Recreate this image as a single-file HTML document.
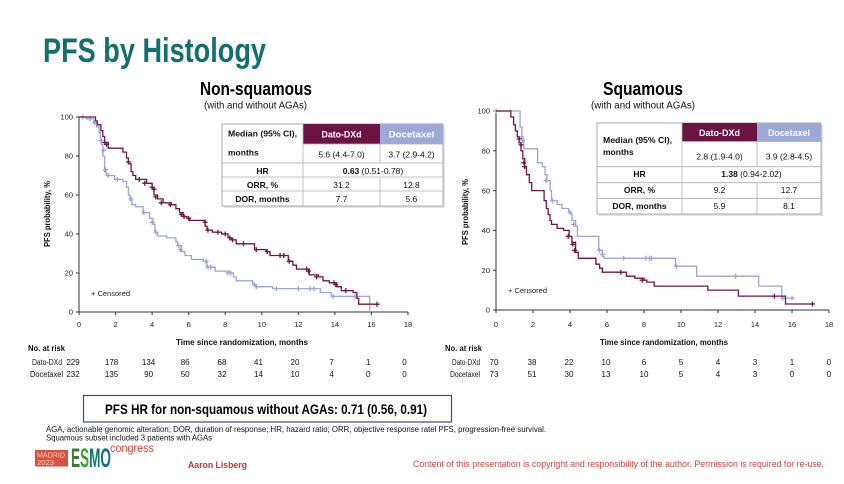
<!DOCTYPE html>
<html><head><meta charset="utf-8"><style>
html,body{margin:0;padding:0;background:#fff;}
svg{display:block;font-family:"Liberation Sans",Arial,sans-serif;}
</style></head><body>
<svg width="844" height="484" viewBox="0 0 844 484" xmlns="http://www.w3.org/2000/svg">
<rect width="844" height="484" fill="#fff"/>
<!-- Title -->
<text x="43" y="62" font-size="34" font-weight="bold" fill="#14706e" textLength="223" lengthAdjust="spacingAndGlyphs">PFS by Histology</text>
<text x="256" y="95" font-size="18" font-weight="bold" fill="#000" text-anchor="middle" textLength="112" lengthAdjust="spacingAndGlyphs">Non-squamous</text>
<text x="255.5" y="108.5" font-size="10" fill="#111" text-anchor="middle" textLength="103" lengthAdjust="spacingAndGlyphs">(with and without AGAs)</text>
<text x="643" y="95" font-size="18" font-weight="bold" fill="#000" text-anchor="middle" textLength="80" lengthAdjust="spacingAndGlyphs">Squamous</text>
<text x="643" y="108.5" font-size="10" fill="#111" text-anchor="middle" textLength="104" lengthAdjust="spacingAndGlyphs">(with and without AGAs)</text>

<!-- LEFT AXES -->
<g stroke="#333" stroke-width="1" fill="none">
<path d="M79,117V312H408"/>
<path d="M76,117h3M76,156h3M76,195h3M76,234h3M76,273h3M76,312h3"/>
<path d="M79,312v3M115.6,312v3M152.1,312v3M188.7,312v3M225.2,312v3M261.8,312v3M298.3,312v3M334.9,312v3M371.4,312v3M408,312v3"/>
</g>
<g font-size="7.5" fill="#222" text-anchor="end">
<text x="73" y="119.7">100</text><text x="73" y="158.7">80</text><text x="73" y="197.7">60</text><text x="73" y="236.7">40</text><text x="73" y="275.7">20</text><text x="73" y="314.7">0</text>
</g>
<g font-size="7.5" fill="#222" text-anchor="middle">
<text x="79" y="327">0</text><text x="115.6" y="327">2</text><text x="152.1" y="327">4</text><text x="188.7" y="327">6</text><text x="225.2" y="327">8</text><text x="261.8" y="327">10</text><text x="298.3" y="327">12</text><text x="334.9" y="327">14</text><text x="371.4" y="327">16</text><text x="408" y="327">18</text>
</g>
<text x="242" y="345" font-size="8" font-weight="bold" fill="#111" text-anchor="middle" textLength="132" lengthAdjust="spacingAndGlyphs">Time since randomization, months</text>
<text transform="translate(50,214) rotate(-90)" font-size="8" font-weight="bold" fill="#111" text-anchor="middle" textLength="66" lengthAdjust="spacingAndGlyphs">PFS probability, %</text>
<text x="91" y="296" font-size="7.5" fill="#222" textLength="39" lengthAdjust="spacingAndGlyphs">+ Censored</text>

<!-- LEFT CURVES -->
<g fill="none" stroke-width="1.3">
<path stroke="#9ba6d2" d="M79,117 H86.3 V118.9 H93.6 V122.9 H96.4 V126.8 H99.1 V132.6 H100.4 V138.5 H101.3 V144.3 H102.8 V156 H104.6 V171.6 H106.4 V175.5 H114.6 V179.4 H122.9 V181.4 H126.5 V187.2 H128.4 V195 H130.2 V200.9 H132 V204.8 H135.7 V206.7 H143 V212.6 H149.4 V218.4 H153 V224.3 H154.9 V232.1 H157.6 V236 H166.7 V237.9 H175.9 V241.8 H177.7 V245.7 H181.4 V251.6 H185 V255.5 H191.4 V259.4 H203.3 V261.3 H207 V267.2 H215.2 V271.1 H229.8 V273 H233.5 V276.9 H236.2 V280.8 H252.7 V284.7 H256.3 V286.7 H272.8 V288.6 H320.3 V292.5 H331.3 V296.4 H369.7 V312"/>
<path stroke="#9ba6d2" d="M82.7,117m-2.5,0h5m-2.5,-2.5v5 M90,118.9m-2.5,0h5m-2.5,-2.5v5 M94.5,122.9m-2.5,0h5m-2.5,-2.5v5 M100.9,140.4m-2.5,0h5m-2.5,-2.5v5 M103.7,150.2m-2.5,0h5m-2.5,-2.5v5 M105.5,169.7m-2.5,0h5m-2.5,-2.5v5 M108.2,175.5m-2.5,0h5m-2.5,-2.5v5 M117.4,179.4m-2.5,0h5m-2.5,-2.5v5 M131.1,198.9m-2.5,0h5m-2.5,-2.5v5 M143.9,212.6m-2.5,0h5m-2.5,-2.5v5 M152.1,222.3m-2.5,0h5m-2.5,-2.5v5 M155.8,232.1m-2.5,0h5m-2.5,-2.5v5 M178.6,245.7m-2.5,0h5m-2.5,-2.5v5 M180.5,249.6m-2.5,0h5m-2.5,-2.5v5 M206,261.3m-2.5,0h5m-2.5,-2.5v5 M207.9,267.2m-2.5,0h5m-2.5,-2.5v5 M210.6,267.2m-2.5,0h5m-2.5,-2.5v5 M228,273m-2.5,0h5m-2.5,-2.5v5 M230.7,273m-2.5,0h5m-2.5,-2.5v5 M254.5,284.7m-2.5,0h5m-2.5,-2.5v5 M256.3,286.7m-2.5,0h5m-2.5,-2.5v5 M276.4,288.6m-2.5,0h5m-2.5,-2.5v5 M298.4,288.6m-2.5,0h5m-2.5,-2.5v5 M310.2,288.6m-2.5,0h5m-2.5,-2.5v5 M313.9,288.6m-2.5,0h5m-2.5,-2.5v5 M333.1,296.4m-2.5,0h5m-2.5,-2.5v5 M355,296.4m-2.5,0h5m-2.5,-2.5v5"/>
<path stroke="#6e1848" d="M79,117 H95.5 V120.9 H97.3 V124.8 H100.9 V130.7 H102.8 V136.5 H104.6 V142.4 H108.2 V148.2 H122.9 V152.1 H126.5 V158 H128.4 V163.8 H131.1 V171.6 H132.9 V175.5 H135.7 V179.4 H146.6 V183.3 H152.1 V187.2 H154 V195 H157.6 V198.9 H163.1 V202.8 H171.3 V204.8 H175.9 V208.7 H179.5 V212.6 H183.2 V216.5 H186.9 V218.4 H189.6 V220.4 H205.1 V226.2 H207 V230.1 H212.4 V232.1 H221.6 V234 H228 V237.9 H231.6 V239.9 H236.2 V243.8 H254.5 V249.6 H266.4 V251.6 H270 V255.5 H288.3 V261.3 H292.9 V265.2 H296.5 V269.1 H309.3 V274.9 H318.5 V276.9 H323 V280.8 H329.4 V282.8 H336.7 V286.7 H341.3 V290.6 H353.2 V292.5 H356.9 V298.4 H358.7 V304.2 H377.9"/>
<path stroke="#6e1848" d="M104.6,142.4m-2.5,0h5m-2.5,-2.5v5 M106.4,144.3m-2.5,0h5m-2.5,-2.5v5 M128.4,161.9m-2.5,0h5m-2.5,-2.5v5 M139.3,179.4m-2.5,0h5m-2.5,-2.5v5 M144.8,183.3m-2.5,0h5m-2.5,-2.5v5 M152.1,187.2m-2.5,0h5m-2.5,-2.5v5 M154,189.2m-2.5,0h5m-2.5,-2.5v5 M155.8,197m-2.5,0h5m-2.5,-2.5v5 M161.3,202.8m-2.5,0h5m-2.5,-2.5v5 M170.4,204.8m-2.5,0h5m-2.5,-2.5v5 M181.4,214.5m-2.5,0h5m-2.5,-2.5v5 M184.1,216.5m-2.5,0h5m-2.5,-2.5v5 M188.7,218.4m-2.5,0h5m-2.5,-2.5v5 M205.1,222.3m-2.5,0h5m-2.5,-2.5v5 M207.9,230.1m-2.5,0h5m-2.5,-2.5v5 M217.9,232.1m-2.5,0h5m-2.5,-2.5v5 M225.2,234m-2.5,0h5m-2.5,-2.5v5 M229.8,237.9m-2.5,0h5m-2.5,-2.5v5 M232.6,239.9m-2.5,0h5m-2.5,-2.5v5 M243.5,243.8m-2.5,0h5m-2.5,-2.5v5 M256.3,249.6m-2.5,0h5m-2.5,-2.5v5 M267.3,251.6m-2.5,0h5m-2.5,-2.5v5 M280.1,255.5m-2.5,0h5m-2.5,-2.5v5 M283.7,255.5m-2.5,0h5m-2.5,-2.5v5 M289.2,261.3m-2.5,0h5m-2.5,-2.5v5 M306.6,269.1m-2.5,0h5m-2.5,-2.5v5 M308.4,271.1m-2.5,0h5m-2.5,-2.5v5 M316.6,276.9m-2.5,0h5m-2.5,-2.5v5 M334,282.8m-2.5,0h5m-2.5,-2.5v5 M335.8,284.7m-2.5,0h5m-2.5,-2.5v5 M345.9,290.6m-2.5,0h5m-2.5,-2.5v5 M377,304.2m-2.5,0h5m-2.5,-2.5v5"/>
</g>

<!-- LEFT TABLE -->
<rect x="224" y="126" width="221" height="82" fill="#e4e4e4"/>
<rect x="222" y="124" width="221" height="82" fill="#fff" stroke="#a8a8a8" stroke-width="1"/>
<rect x="303" y="124" width="77" height="20" fill="#6b1444"/>
<rect x="380" y="124" width="63" height="20" fill="#9ea8d6"/>
<g stroke="#b0b0b0" stroke-width="0.8" fill="none">
<path d="M303,144H443M222,163H443M222,177H443M222,191H443"/>
<path d="M303,124V206M380,144V163M380,177V206"/>
</g>
<g font-size="8.5" fill="#111">
<text x="228" y="136.5" font-weight="bold" textLength="69" lengthAdjust="spacingAndGlyphs">Median (95% CI),</text>
<text x="228" y="155.5" font-weight="bold">months</text>
<text x="341.5" y="137.5" font-size="9" font-weight="bold" fill="#fff" text-anchor="middle" textLength="40" lengthAdjust="spacingAndGlyphs">Dato-DXd</text>
<text x="411.5" y="137.5" font-size="9" font-weight="bold" fill="#fff" text-anchor="middle" textLength="46" lengthAdjust="spacingAndGlyphs">Docetaxel</text>
<text x="341.5" y="157.5" text-anchor="middle">5.6 (4.4-7.0)</text>
<text x="411.5" y="157.5" text-anchor="middle">3.7 (2.9-4.2)</text>
<text x="262.5" y="174" font-weight="bold" text-anchor="middle">HR</text>
<text x="373" y="174" text-anchor="middle"><tspan font-weight="bold">0.63</tspan> (0.51-0.78)</text>
<text x="262.5" y="188" font-weight="bold" text-anchor="middle">ORR, %</text>
<text x="341.5" y="188" text-anchor="middle">31.2</text>
<text x="411.5" y="188" text-anchor="middle">12.8</text>
<text x="262.5" y="202" font-weight="bold" text-anchor="middle">DOR, months</text>
<text x="341.5" y="202" text-anchor="middle">7.7</text>
<text x="411.5" y="202" text-anchor="middle">5.6</text>
</g>

<!-- LEFT RISK TABLE -->
<g font-size="8" fill="#111">
<text x="28" y="351" font-weight="bold" textLength="37" lengthAdjust="spacingAndGlyphs">No. at risk</text>
<text x="32" y="365" textLength="30" lengthAdjust="spacingAndGlyphs">Dato-DXd</text>
<text x="30" y="377" textLength="33" lengthAdjust="spacingAndGlyphs">Docetaxel</text>
</g>
<g font-size="8" fill="#111" text-anchor="middle">
<text x="73" y="365">229</text><text x="111.6" y="365">178</text><text x="148.6" y="365">134</text><text x="185.2" y="365">86</text><text x="222" y="365">68</text><text x="258.5" y="365">41</text><text x="295" y="365">20</text><text x="331.6" y="365">7</text><text x="368.2" y="365">1</text><text x="404.5" y="365">0</text>
<text x="73" y="377">232</text><text x="111.6" y="377">135</text><text x="148.6" y="377">90</text><text x="185.2" y="377">50</text><text x="222" y="377">32</text><text x="258.5" y="377">14</text><text x="295" y="377">10</text><text x="331.6" y="377">4</text><text x="368.2" y="377">0</text><text x="404.5" y="377">0</text>
</g>

<!-- RIGHT AXES -->
<g stroke="#333" stroke-width="1" fill="none">
<path d="M496,111V310H829"/>
<path d="M493,111h3M493,150.8h3M493,190.6h3M493,230.4h3M493,270.2h3M493,310h3"/>
<path d="M496,310v3M533,310v3M570,310v3M607,310v3M644,310v3M681,310v3M718,310v3M755,310v3M792,310v3M829,310v3"/>
</g>
<g font-size="7.5" fill="#222" text-anchor="end">
<text x="490" y="113.7">100</text><text x="490" y="153.5">80</text><text x="490" y="193.3">60</text><text x="490" y="233.1">40</text><text x="490" y="272.9">20</text><text x="490" y="312.7">0</text>
</g>
<g font-size="7.5" fill="#222" text-anchor="middle">
<text x="496" y="327">0</text><text x="533" y="327">2</text><text x="570" y="327">4</text><text x="607" y="327">6</text><text x="644" y="327">8</text><text x="681" y="327">10</text><text x="718" y="327">12</text><text x="755" y="327">14</text><text x="792" y="327">16</text><text x="829" y="327">18</text>
</g>
<text x="664" y="345" font-size="8" font-weight="bold" fill="#111" text-anchor="middle" textLength="128" lengthAdjust="spacingAndGlyphs">Time since randomization, months</text>
<text transform="translate(468,212) rotate(-90)" font-size="8" font-weight="bold" fill="#111" text-anchor="middle" textLength="66" lengthAdjust="spacingAndGlyphs">PFS probability, %</text>
<text x="508" y="293" font-size="7.5" fill="#222" textLength="39" lengthAdjust="spacingAndGlyphs">+ Censored</text>

<!-- RIGHT CURVES -->
<g fill="none" stroke-width="1.3">
<path stroke="#9ba6d2" d="M496,111 H520.1 V126.9 H521.9 V138.9 H523.8 V148.8 H537.6 V162.7 H542.3 V166.7 H545 V174.7 H546.9 V180.7 H550.2 V190.6 H551.5 V200.6 H557.1 V204.5 H562 V208.5 H568.7 V212.5 H571.9 V220.5 H575.6 V226.4 H577.4 V236.4 H598.7 V250.3 H602.4 V256.3 H604.2 V258.3 H675.5 V266.2 H696.7 V276.2 H758.7 V286.1 H781.8 V298.1 H793.9"/>
<path stroke="#9ba6d2" d="M496,111m-2.5,0h5m-2.5,-2.5v5 M521.9,136.9m-2.5,0h5m-2.5,-2.5v5 M522.8,140.9m-2.5,0h5m-2.5,-2.5v5 M546,180.7m-2.5,0h5m-2.5,-2.5v5 M552.4,200.6m-2.5,0h5m-2.5,-2.5v5 M570,212.5m-2.5,0h5m-2.5,-2.5v5 M573.7,224.4m-2.5,0h5m-2.5,-2.5v5 M599.6,250.3m-2.5,0h5m-2.5,-2.5v5 M602.4,254.3m-2.5,0h5m-2.5,-2.5v5 M623.7,258.3m-2.5,0h5m-2.5,-2.5v5 M645.9,258.3m-2.5,0h5m-2.5,-2.5v5 M649.6,258.3m-2.5,0h5m-2.5,-2.5v5 M651.5,258.3m-2.5,0h5m-2.5,-2.5v5 M676.4,266.2m-2.5,0h5m-2.5,-2.5v5 M735.6,276.2m-2.5,0h5m-2.5,-2.5v5 M782.8,298.1m-2.5,0h5m-2.5,-2.5v5 M792,298.1m-2.5,0h5m-2.5,-2.5v5"/>
<path stroke="#6e1848" d="M496,111 H510.8 V117 H513.6 V124.9 H515.4 V130.9 H517.3 V136.9 H519.1 V142.8 H521 V150.8 H522.8 V158.8 H524.7 V166.7 H526.5 V174.7 H529.3 V182.6 H531.7 V190.6 H544.1 V200.6 H546.3 V208.5 H548.2 V214.5 H550 V220.5 H551.5 V224.4 H557.1 V228.4 H563.7 V230.4 H569.1 V236.4 H571.9 V242.3 H575.6 V252.3 H578.3 V258.3 H595.9 V264.2 H599.6 V268.2 H602.4 V272.2 H626.4 V276.2 H634.8 V278.2 H644 V280.2 H646.8 V282.1 H654.2 V286.1 H707.8 V290.1 H738.4 V296.1 H785.5 V304 H814.2"/>
<path stroke="#6e1848" d="M519.1,138.9m-2.5,0h5m-2.5,-2.5v5 M521,144.8m-2.5,0h5m-2.5,-2.5v5 M523.8,162.7m-2.5,0h5m-2.5,-2.5v5 M524.7,166.7m-2.5,0h5m-2.5,-2.5v5 M568.2,236.4m-2.5,0h5m-2.5,-2.5v5 M572.8,244.3m-2.5,0h5m-2.5,-2.5v5 M574.6,250.3m-2.5,0h5m-2.5,-2.5v5 M620.9,272.2m-2.5,0h5m-2.5,-2.5v5 M642.2,280.2m-2.5,0h5m-2.5,-2.5v5 M774.4,296.1m-2.5,0h5m-2.5,-2.5v5 M812.4,304m-2.5,0h5m-2.5,-2.5v5"/>
</g>

<!-- RIGHT TABLE -->
<rect x="599" y="125" width="224" height="91" fill="#e4e4e4"/>
<rect x="597" y="123" width="224" height="91" fill="#fff" stroke="#a8a8a8" stroke-width="1"/>
<rect x="682" y="123" width="75" height="18.5" fill="#6b1444"/>
<rect x="757" y="123" width="64" height="18.5" fill="#9ea8d6"/>
<g stroke="#b0b0b0" stroke-width="0.8" fill="none">
<path d="M682,141.5H821M597,166.7H821M597,182.7H821M597,198.3H821"/>
<path d="M682,123V214M757,141.5V166.7M757,182.7V214"/>
</g>
<g font-size="8.5" fill="#111">
<text x="603" y="143" font-weight="bold" textLength="69" lengthAdjust="spacingAndGlyphs">Median (95% CI),</text>
<text x="603" y="155" font-weight="bold">months</text>
<text x="719.5" y="136" font-size="9" font-weight="bold" fill="#fff" text-anchor="middle" textLength="41" lengthAdjust="spacingAndGlyphs">Dato-DXd</text>
<text x="789" y="136" font-size="9" font-weight="bold" fill="#fff" text-anchor="middle" textLength="42" lengthAdjust="spacingAndGlyphs">Docetaxel</text>
<text x="719.5" y="159.5" text-anchor="middle">2.8 (1.9-4.0)</text>
<text x="789" y="159.5" text-anchor="middle">3.9 (2.8-4.5)</text>
<text x="639.5" y="177" font-weight="bold" text-anchor="middle">HR</text>
<text x="751.5" y="177" text-anchor="middle"><tspan font-weight="bold">1.38</tspan> (0.94-2.02)</text>
<text x="639.5" y="193" font-weight="bold" text-anchor="middle">ORR, %</text>
<text x="719.5" y="193" text-anchor="middle">9.2</text>
<text x="789" y="193" text-anchor="middle">12.7</text>
<text x="639.5" y="209" font-weight="bold" text-anchor="middle">DOR, months</text>
<text x="719.5" y="209" text-anchor="middle">5.9</text>
<text x="789" y="209" text-anchor="middle">8.1</text>
</g>

<!-- RIGHT RISK TABLE -->
<g font-size="8" fill="#111">
<text x="445" y="351" font-weight="bold" textLength="37" lengthAdjust="spacingAndGlyphs">No. at risk</text>
<text x="452" y="365" textLength="28" lengthAdjust="spacingAndGlyphs">Dato-DXd</text>
<text x="450" y="377" textLength="30" lengthAdjust="spacingAndGlyphs">Docetaxel</text>
</g>
<g font-size="8" fill="#111" text-anchor="middle">
<text x="494" y="365">70</text><text x="532" y="365">38</text><text x="569" y="365">22</text><text x="606" y="365">10</text><text x="644" y="365">6</text><text x="681" y="365">5</text><text x="718" y="365">4</text><text x="755" y="365">3</text><text x="792" y="365">1</text><text x="829" y="365">0</text>
<text x="494" y="377">73</text><text x="532" y="377">51</text><text x="569" y="377">30</text><text x="606" y="377">13</text><text x="644" y="377">10</text><text x="681" y="377">5</text><text x="718" y="377">4</text><text x="755" y="377">3</text><text x="792" y="377">0</text><text x="829" y="377">0</text>
</g>

<!-- HR BOX -->
<rect x="83.5" y="395.5" width="368" height="26.5" fill="#fff" stroke="#3f4b7c" stroke-width="1.2"/>
<text x="266" y="414" font-size="14" font-weight="bold" fill="#000" text-anchor="middle" textLength="322" lengthAdjust="spacingAndGlyphs">PFS HR for non-squamous without AGAs: 0.71 (0.56, 0.91)</text>

<!-- FOOTNOTES -->
<text x="46" y="432" font-size="8" fill="#111" textLength="500" lengthAdjust="spacingAndGlyphs">AGA, actionable genomic alteration; DOR, duration of response; HR, hazard ratio; ORR, objective response ratel PFS, progression-free survival.</text>
<text x="46" y="440.5" font-size="8" fill="#111" textLength="166" lengthAdjust="spacingAndGlyphs">Squamous subset included 3 patients with AGAs</text>

<!-- LOGO -->
<rect x="35" y="450" width="33" height="16.5" fill="#d9513f"/>
<text x="37" y="457.5" font-size="7" fill="#f6d0c8" textLength="28" lengthAdjust="spacingAndGlyphs">MADRID</text>
<text x="37" y="465" font-size="7" fill="#f6d0c8" textLength="17" lengthAdjust="spacingAndGlyphs">2023</text>
<text x="71" y="467" font-size="27" font-weight="bold" textLength="40" lengthAdjust="spacingAndGlyphs"><tspan fill="#3c7a35">E</tspan><tspan fill="#4d9a3b">S</tspan><tspan fill="#0f7a63">M</tspan><tspan fill="#12708a">O</tspan></text>
<text x="110" y="452" font-size="12" fill="#d0473b" textLength="44" lengthAdjust="spacingAndGlyphs">congress</text>
<text x="188" y="468" font-size="9" font-weight="bold" fill="#b93b34" textLength="59" lengthAdjust="spacingAndGlyphs">Aaron Lisberg</text>
<text x="413" y="467" font-size="9" fill="#c8483f" textLength="411" lengthAdjust="spacingAndGlyphs">Content of this presentation is copyright and responsibility of the author. Permission is required for re-use.</text>
</svg>
</body></html>
